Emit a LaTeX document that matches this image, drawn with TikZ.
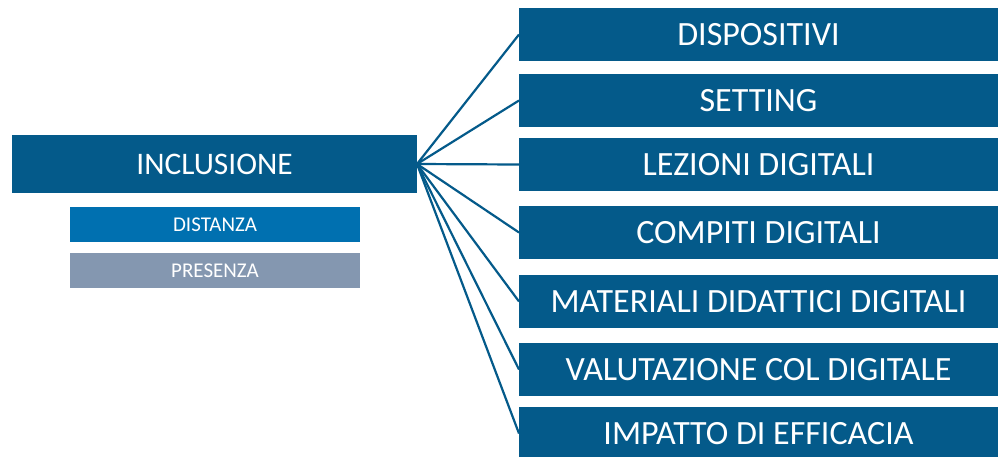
\documentclass[tikz,border=0pt]{standalone}
\usepackage{fontspec}
\setmainfont{Carlito}
\definecolor{mainblue}{RGB}{4,90,138}
\definecolor{distblue}{RGB}{0,112,176}
\definecolor{presgray}{RGB}{132,151,176}
\begin{document}
\begin{tikzpicture}[x=1pt,y=-1pt,
  bigbox/.style={fill=mainblue,text=white,inner sep=0pt,outer sep=0pt,font=\fontsize{34}{36}\selectfont},
  rbox/.style={bigbox,minimum width=479pt,minimum height=53pt,anchor=north west},
  smallbox/.style={inner sep=0pt,outer sep=0pt,text=white,minimum width=290pt,minimum height=35pt,anchor=north west,font=\fontsize{21}{23}\selectfont},
  link/.style={draw=mainblue,line width=2.2pt}]
\useasboundingbox (0,0) rectangle (998,456);
\node[bigbox,font=\fontsize{31.4}{33}\selectfont,minimum width=405pt,minimum height=58pt,anchor=north west] (inc) at (12,135) {INCLUSIONE};
\node[smallbox,fill=distblue] (dist) at (70,207) {DISTANZA};
\node[smallbox,fill=presgray] (pres) at (70,253) {PRESENZA};
\node[rbox] (r1) at (519,8) {DISPOSITIVI};
\node[rbox] (r2) at (519,74) {SETTING};
\node[rbox] (r3) at (519,138) {LEZIONI DIGITALI};
\node[rbox] (r4) at (519,206) {COMPITI DIGITALI};
\node[rbox] (r5) at (519,275) {MATERIALI DIDATTICI DIGITALI};
\node[rbox] (r6) at (519,343) {VALUTAZIONE COL DIGITALE};
\node[rbox] (r7) at (519,407) {IMPATTO DI EFFICACIA};
\foreach \i in {1,...,7}{\draw[link] (inc.east) -- (r\i.west);}
\end{tikzpicture}
\end{document}
